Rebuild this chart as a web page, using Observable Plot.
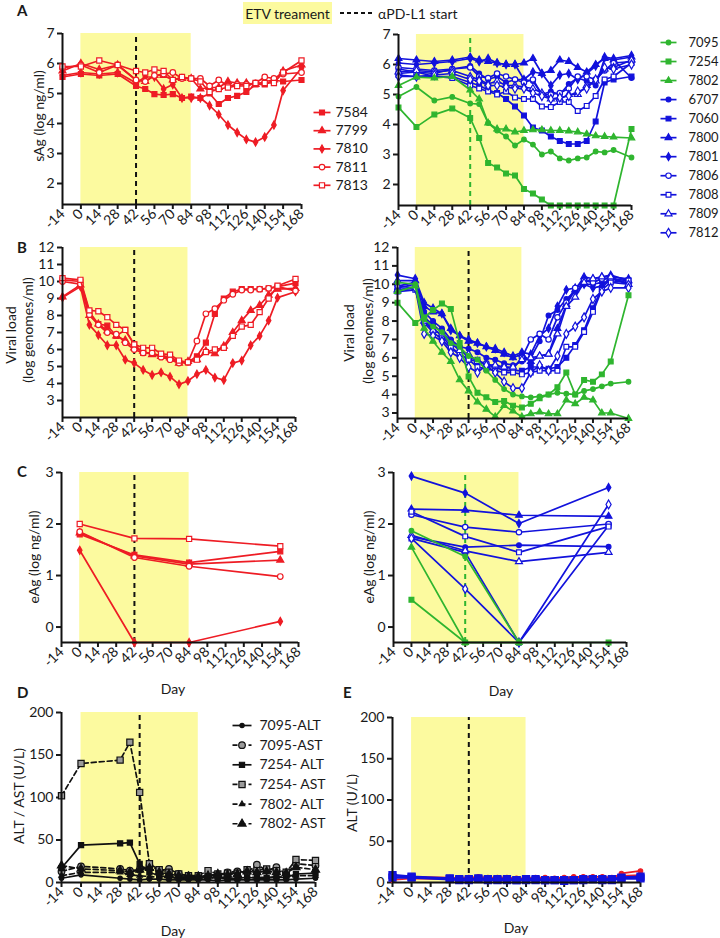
<!DOCTYPE html>
<html><head><meta charset="utf-8">
<script src="https://cdn.jsdelivr.net/npm/d3@7"></script>
<script src="https://cdn.jsdelivr.net/npm/@observablehq/plot@0.6"></script>
<style>
body{margin:0;background:#fff;}
#root{position:relative;width:720px;height:938px;overflow:hidden;font-family:Lato,sans-serif;}
#root svg [aria-label$="tick"] path,#root svg [aria-label$="tick"] line,#root svg .tick line{stroke-width:2px;}
</style></head><body><div id="root"></div>
<script>
// ---------- data ----------
const dayTicks = [-14,0,14,28,42,56,70,84,98,112,126,140,154,168];
const etvWindow = [0, 84];
const aPDL1Day = 42;
const daysA = [-14,0,14,28,42,49,56,63,70,77,84,91,98,105,112,119,126,133,140,147,154,168];
const daysB = [-14,0,7,14,21,28,35,42,49,56,63,70,77,84,91,98,105,112,119,126,133,140,147,154,168];
const daysC = [0,42,84,154];
const daysD = [-14,0,28,35,42,49,56,63,70,77,84,91,98,105,112,119,126,133,140,147,154,168];

const sAgTicks = [2,3,4,5,6,7];
const vlTicks = [3,4,5,6,7,8,9,10,11,12];
const eAgTicks = [0,1,2,3];
const altTicks = [0,50,100,150,200];

const redIds = ["7584","7799","7810","7811","7813"];
const greenIds = ["7095","7254","7802"];
const blueIds = ["6707","7060","7800","7801","7806","7808","7809","7812"];

// sAg (log ng/ml), days daysA
const sAgRed = [
  [5.55,5.65,5.6,5.65,5.25,5.15,4.98,4.95,4.98,4.85,4.9,4.85,5.0,4.65,4.85,4.92,5.05,5.3,5.3,5.45,5.4,5.45],
  [5.75,6.0,5.8,5.95,5.45,5.4,5.6,5.6,5.45,5.5,5.5,5.15,5.2,5.2,5.4,5.35,5.35,5.3,5.4,5.45,5.75,5.95],
  [5.6,5.7,5.65,5.7,5.35,5.55,5.55,5.15,5.3,4.85,4.85,4.85,4.6,4.3,3.95,3.7,3.47,3.38,3.55,3.95,5.1,5.85],
  [5.85,5.95,5.7,5.95,5.45,5.4,5.6,5.65,5.7,5.5,5.5,5.5,5.25,5.45,5.25,5.3,5.3,5.35,5.55,5.5,5.65,5.7],
  [5.9,5.9,6.1,5.95,5.75,5.7,5.8,5.75,5.45,5.55,5.5,5.4,5.05,5.15,5.2,5.25,5.25,5.35,5.35,5.35,5.7,6.1]
];
const sAgGreen = [
  [4.93,5.25,4.8,4.92,4.7,4.68,4.05,3.8,3.6,3.3,3.5,3.33,3.0,3.1,2.87,2.8,2.87,2.9,3.1,3.07,3.15,2.9],
  [4.57,3.92,4.33,4.53,4.22,3.55,2.72,2.57,2.37,2.3,1.85,1.7,1.5,1.3,1.3,1.3,1.3,1.3,1.3,1.3,1.3,3.85],
  [5.3,5.58,5.55,5.6,5.15,4.85,4.05,3.85,3.85,3.75,3.8,3.82,3.82,3.8,3.8,3.78,3.75,3.68,3.62,3.6,3.58,3.55]
];
const sAgBlue = [
  [5.85,5.75,5.7,5.85,5.95,5.7,5.5,5.6,5.4,5.5,5.5,5.45,5.0,5.1,5.0,5.35,5.55,5.45,5.3,6.2,6.15,5.55],
  [5.65,5.6,5.6,5.6,5.4,5.3,5.15,5.05,4.85,4.6,4.3,3.9,3.8,3.6,3.45,3.35,3.35,3.45,4.1,5.4,5.5,5.6],
  [6.2,6.15,6.1,6.15,6.25,6.15,6.1,6.05,6.0,6.0,6.05,6.2,5.7,5.8,6.15,6.1,5.9,5.75,6.0,6.2,6.15,6.25],
  [6.05,6.0,6.05,6.1,6.2,6.1,6.2,6.05,6.0,6.0,5.5,5.75,5.7,5.3,5.65,5.7,5.5,5.7,5.95,6.25,6.2,6.3],
  [5.9,5.85,5.8,5.85,5.9,5.6,5.55,5.7,5.6,5.5,5.4,5.5,5.0,5.0,5.05,5.2,5.6,5.6,5.5,5.8,6.05,6.1],
  [5.7,5.75,5.6,5.55,5.3,5.2,5.1,5.0,5.1,4.9,4.85,4.85,4.6,4.58,4.75,4.75,4.45,4.62,4.95,5.5,5.6,6.05],
  [5.75,5.8,5.75,5.8,5.6,5.5,5.35,5.45,5.3,5.3,5.25,5.2,5.05,4.85,4.85,5.0,5.0,5.3,5.45,5.85,5.9,6.15],
  [5.6,5.6,5.65,5.7,5.5,5.45,5.3,5.3,5.25,5.2,5.2,5.05,4.95,4.85,4.9,4.95,5.1,5.2,5.5,5.9,5.85,6.0]
];

// Viral load (log genomes/ml), days daysB
const vlRed = [
  [10.1,10.0,8.2,7.5,7.4,6.8,7.15,6.3,5.8,5.75,5.65,5.55,5.3,5.25,5.6,6.4,8.1,9.0,9.4,9.55,9.55,9.55,9.6,9.7,9.9],
  [9.1,9.8,8.0,7.5,7.1,6.8,6.55,6.1,5.9,5.7,5.6,5.5,5.2,5.3,5.4,5.9,5.75,6.2,7.0,7.7,8.3,8.6,9.2,9.55,9.6],
  [9.05,9.7,7.45,6.85,6.25,6.25,5.4,5.2,4.8,4.5,4.65,4.4,3.95,4.15,4.55,4.8,4.35,4.2,5.2,5.35,6.25,6.8,7.7,9.05,9.4],
  [10.0,9.85,8.05,7.45,7.0,6.9,6.4,6.0,5.8,5.8,5.55,5.4,5.2,5.25,6.5,8.1,8.4,8.9,9.25,9.5,9.5,9.55,9.6,9.7,9.45],
  [10.2,10.1,8.3,8.25,7.9,7.45,7.15,6.3,6.1,6.1,5.75,5.7,5.35,5.25,5.4,5.85,6.0,6.1,6.8,7.35,7.45,8.2,9.0,9.75,10.15]
];
const vlGreen = [
  [10.1,10.0,8.1,7.7,7.4,6.8,6.6,6.1,5.9,5.3,4.8,4.3,4.0,3.9,3.85,3.9,4.0,4.1,4.05,4.0,4.2,4.3,4.45,4.6,4.7],
  [9.0,7.9,8.2,8.6,8.95,8.65,6.8,4.98,4.1,3.85,3.6,3.65,3.4,3.3,3.5,3.8,4.0,4.4,5.2,4.0,4.8,4.7,5.1,5.8,9.4],
  [9.6,9.9,7.6,6.9,6.3,5.8,4.8,4.2,3.6,3.2,2.8,3.4,3.1,2.8,2.95,3.05,2.95,2.95,3.7,3.5,3.85,3.7,3.0,3.0,2.7]
];
const vlBlue = [
  [9.9,10.1,8.5,8.0,7.6,7.0,6.6,6.5,6.3,6.0,5.9,5.7,5.6,5.8,6.0,6.9,8.3,8.6,9.2,9.6,10.0,10.0,10.1,10.1,10.0],
  [9.8,10.0,8.2,7.8,7.4,6.9,6.5,6.0,5.9,5.6,5.5,5.3,5.3,5.3,5.5,5.5,5.4,5.5,6.0,6.7,7.5,8.7,9.8,10.3,10.2],
  [10.2,10.2,8.8,8.5,8.4,7.6,7.2,6.9,6.8,6.6,6.4,6.2,6.0,6.2,5.8,6.1,6.2,7.6,8.9,9.7,10.4,10.3,10.4,10.5,10.2],
  [10.5,10.3,9.0,8.7,8.4,7.5,7.2,7.0,6.8,6.6,6.5,6.3,6.1,6.3,6.2,7.2,7.6,8.8,9.7,9.8,10.0,9.8,9.9,10.4,10.3],
  [9.7,9.8,7.9,7.4,7.0,6.5,6.2,5.9,5.8,5.7,5.5,5.5,5.4,6.0,7.0,7.3,7.0,8.2,9.0,9.8,10.2,10.1,10.3,10.3,10.0],
  [9.6,9.7,8.1,7.6,7.2,6.6,6.2,5.9,5.5,5.4,5.3,5.2,5.2,5.1,5.2,5.3,5.3,5.3,6.6,6.6,7.4,8.5,9.7,10.1,10.2],
  [9.7,9.8,8.0,7.5,7.3,6.8,6.4,6.2,5.8,5.6,5.6,5.5,5.5,5.9,6.0,6.1,6.2,7.3,8.8,9.3,10.1,10.3,10.4,10.4,10.0],
  [9.9,9.8,7.3,7.2,6.9,6.3,6.0,5.5,5.2,5.6,5.2,4.7,4.35,4.35,5.2,5.6,5.3,6.1,7.3,7.7,8.2,9.2,9.6,9.8,9.8]
];

// eAg (log ng/ml), days daysC
const eAgRed = [
  [1.8,1.4,1.25,1.47],
  [1.83,1.38,1.22,1.3],
  [1.49,-0.3,-0.3,0.11],
  [1.85,1.35,1.18,0.98],
  [2.0,1.72,1.71,1.57]
];
const eAgGreen = [
  [1.87,1.37,-0.3,null],
  [0.53,-0.3,-0.3,-0.3],
  [1.55,-0.3,-0.3,null]
];
const eAgBlue = [
  [1.75,1.55,1.59,1.56],
  [1.72,1.45,-0.3,1.97],
  [2.29,2.27,2.17,2.15],
  [2.93,2.6,2.01,2.71],
  [2.18,1.94,1.84,2.0],
  [2.24,1.76,1.45,1.95],
  [1.78,1.48,1.27,1.45],
  [1.72,0.74,-0.3,2.38]
];

// ALT / AST (U/L), days daysD
const liverIds = ["7095-ALT","7095-AST","7254- ALT","7254- AST","7802- ALT","7802- AST"];
const liverValues = [
  [5,9,5,4,3,4,4,3,3,3,3,3,2,3,3,3,3,3,3,3,4,5],
  [13,19,16,14,15,20,14,16,10,8,7,8,8,12,13,12,21,14,18,10,22,20],
  [17,44,46,47,22,12,8,6,6,6,6,6,6,4,5,6,5,5,6,6,10,11],
  [102,140,144,165,106,22,15,12,10,8,8,14,10,11,11,15,14,16,14,12,27,26],
  [8,12,12,9,8,7,6,6,5,5,5,5,6,5,5,6,6,6,7,6,8,8],
  [20,16,14,12,15,17,12,10,8,7,7,8,10,9,10,13,12,13,12,11,18,15]
];
// ALT (U/L) for the other animals, days daysD
const altRed = [
  [3,5,4,4,5,6,4,5,5,4,5,5,5,4,4,6,6,5,5,5,11,14],
  [6,7,6,5,6,7,6,6,6,5,5,6,6,5,6,7,7,7,7,6,8,9]
];
const altBlue = [
  [9,7,5,4,4,5,4,4,4,3,4,4,3,3,2,3,3,4,3,3,5,5],
  [6,6,4,3,3,4,3,3,3,3,3,3,3,3,3,3,4,4,4,4,6,7]
];

// ---------- styles ----------
const F = "Lato, 'Open Sans', sans-serif";
const RED = "#ee1c24", BLUE = "#1212dc", GREEN = "#2fb52f", YEL = "#fcfa9f", INK = "#111";
const markerStyle = {
  "7584": {symbol: "square", open: false, r: 2.8},
  "7799": {symbol: "triangle", open: false, r: 2.6},
  "7810": {symbol: "diamond", open: false, r: 2.4},
  "7811": {symbol: "circle", open: true, r: 2.8},
  "7813": {symbol: "square", open: true, r: 2.9},
  "7095": {symbol: "circle", open: false, r: 2.3},
  "7254": {symbol: "square", open: false, r: 2.7},
  "7802": {symbol: "triangle", open: false, r: 2.4},
  "6707": {symbol: "circle", open: false, r: 2.4},
  "7060": {symbol: "square", open: false, r: 2.7},
  "7800": {symbol: "triangle", open: false, r: 2.5},
  "7801": {symbol: "diamond", open: false, r: 2.4},
  "7806": {symbol: "circle", open: true, r: 2.7},
  "7808": {symbol: "square", open: true, r: 2.7},
  "7809": {symbol: "triangle", open: true, r: 2.6},
  "7812": {symbol: "diamond", open: true, r: 2.7}
};
const liverStyle = [
  {symbol: "circle", fill: INK, r: 2.2, dash: null},
  {symbol: "circle", fill: "#9a9a9a", r: 3.3, dash: "5,3"},
  {symbol: "square", fill: INK, r: 2.9, dash: null},
  {symbol: "square", fill: "#9a9a9a", r: 3.5, dash: "5,3"},
  {symbol: "triangle", fill: INK, r: 2.0, dash: "5,3"},
  {symbol: "triangle", fill: INK, r: 3.0, dash: "5,3"}
];

const root = document.getElementById("root");
function place(el, L, T) {
  el.style.position = "absolute";
  el.style.left = L + "px";
  el.style.top = T + "px";
  root.appendChild(el);
}
function groupsFrom(ids, valuesList, days, color) {
  return ids.map((id, i) => {
    const st = markerStyle[id];
    return {days, values: valuesList[i], color, symbol: st.symbol, r: st.r, fill: st.open ? "white" : color, dash: null, sw: 1.7};
  });
}

function makePanel({x0, x1, y0, y1, yDomain, yTicks, dashColor, groups}) {
  const L = x0 - 60, T = y0 - 12;
  const W = x1 - L + 14, H = y1 - T + 50;
  const [lo, hi] = yDomain;
  const marks = [
    Plot.rect([etvWindow], {x1: d => d[0], x2: d => d[1], y1: () => lo, y2: () => hi, fill: YEL}),
    Plot.ruleX([aPDL1Day], {y1: () => lo, y2: () => hi, stroke: dashColor, strokeWidth: 2, strokeDasharray: "5,4"})
  ];
  for (const s of groups) {
    const data = s.values.map((v, i) => ({day: s.days[i], v})).filter(d => d.v != null);
    marks.push(Plot.line(data, {x: "day", y: "v", stroke: s.color, strokeWidth: s.sw, strokeDasharray: s.dash}));
    marks.push(Plot.dot(data, {x: "day", y: "v", symbol: s.symbol, r: s.r, fill: s.fill, stroke: s.color, strokeWidth: 1.2}));
  }
  marks.push(Plot.ruleX([dayTicks[0]], {y1: () => lo, y2: () => hi, stroke: INK, strokeWidth: 2}));
  marks.push(Plot.ruleY([lo], {stroke: INK, strokeWidth: 2}));
  const svg = Plot.plot({
    width: W, height: H,
    marginLeft: x0 - L, marginRight: L + W - x1, marginTop: y0 - T, marginBottom: T + H - y1,
    x: {domain: [dayTicks[0], dayTicks[dayTicks.length - 1]], ticks: dayTicks, tickFormat: d => String(d), tickRotate: -45, tickSize: 5, tickPadding: 2, label: null},
    y: {domain: yDomain, ticks: yTicks, tickSize: 5, tickPadding: 3, tickFormat: d => String(d), label: null},
    style: {background: "transparent", overflow: "visible", fontFamily: F, fontSize: "14px", color: "#1a1a1a"},
    marks
  });
  place(svg, L, T);
}

function makeLegend(L, T, items, gap, lineW, textDx, fontSize) {
  const rows = items.map((it, i) => ({...it, cy: 9 + i * gap}));
  const W = 100, H = 18 + (items.length - 1) * gap;
  const marks = [];
  for (const r of rows) {
    marks.push(Plot.link([r], {x1: () => 1, x2: () => 1 + lineW, y1: d => d.cy, y2: d => d.cy, stroke: r.color, strokeWidth: 1.7, strokeDasharray: r.dash}));
    marks.push(Plot.dot([r], {x: () => 1 + lineW / 2, y: d => d.cy, symbol: r.symbol, r: r.r, fill: r.fill, stroke: r.color, strokeWidth: 1.2}));
  }
  marks.push(Plot.text(rows, {x: () => 1 + lineW + textDx, y: "cy", text: "label", textAnchor: "start", fill: "#1a1a1a", fontSize}));
  const svg = Plot.plot({
    width: W, height: H, margin: 0,
    x: {type: "identity", axis: null}, y: {type: "identity", axis: null},
    style: {background: "transparent", overflow: "visible", fontFamily: F},
    marks
  });
  place(svg, L, T - 9);
}

// ---------- panels ----------
// A
makePanel({x0: 62, x1: 301, y0: 33, y1: 204, yDomain: [1.3, 7], yTicks: sAgTicks, dashColor: INK,
  groups: groupsFrom(redIds, sAgRed, daysA, RED)});
makePanel({x0: 398, x1: 631, y0: 34, y1: 205, yDomain: [1.3, 7], yTicks: sAgTicks, dashColor: GREEN,
  groups: [...groupsFrom(blueIds, sAgBlue, daysA, BLUE), ...groupsFrom(greenIds, sAgGreen, daysA, GREEN)]});
// B
makePanel({x0: 62, x1: 295, y0: 247, y1: 417, yDomain: [2, 12], yTicks: vlTicks, dashColor: INK,
  groups: groupsFrom(redIds, vlRed, daysB, RED)});
makePanel({x0: 397, x1: 628, y0: 247, y1: 418, yDomain: [2.7, 12], yTicks: vlTicks, dashColor: INK,
  groups: [...groupsFrom(blueIds, vlBlue, daysB, BLUE), ...groupsFrom(greenIds, vlGreen, daysB, GREEN)]});
// C
makePanel({x0: 61, x1: 298, y0: 472, y1: 642, yDomain: [-0.3, 3], yTicks: eAgTicks, dashColor: INK,
  groups: groupsFrom(redIds, eAgRed, daysC, RED)});
makePanel({x0: 393, x1: 626, y0: 472, y1: 642, yDomain: [-0.3, 3], yTicks: eAgTicks, dashColor: GREEN,
  groups: [...groupsFrom(blueIds, eAgBlue, daysC, BLUE), ...groupsFrom(greenIds, eAgGreen, daysC, GREEN)]});
// D
makePanel({x0: 61, x1: 315, y0: 712, y1: 882, yDomain: [0, 200], yTicks: altTicks, dashColor: INK,
  groups: liverIds.map((id, i) => ({days: daysD, values: liverValues[i], color: INK, symbol: liverStyle[i].symbol,
    r: liverStyle[i].r, fill: liverStyle[i].fill, dash: liverStyle[i].dash, sw: 1.7}))});
// E
makePanel({x0: 392, x1: 640, y0: 717, y1: 882, yDomain: [0, 200], yTicks: altTicks, dashColor: INK,
  groups: [
    ...altRed.map(v => ({days: daysD, values: v, color: RED, symbol: "circle", r: 2.2, fill: RED, dash: null, sw: 1.7})),
    ...altBlue.map(v => ({days: daysD, values: v, color: BLUE, symbol: "square", r: 4.0, fill: BLUE, dash: null, sw: 2.5}))
  ]});

// ---------- legends ----------
makeLegend(312, 112, redIds.map(id => ({label: id, color: RED, symbol: markerStyle[id].symbol, r: markerStyle[id].r,
  fill: markerStyle[id].open ? "white" : RED})), 18.2, 17, 5, 14);
makeLegend(659, 42, [...greenIds.map(id => ({id, c: GREEN})), ...blueIds.map(id => ({id, c: BLUE}))].map(({id, c}) => ({
  label: id, color: c, symbol: markerStyle[id].symbol, r: markerStyle[id].r, fill: markerStyle[id].open ? "white" : c})), 19.03, 16, 12, 13);
makeLegend(231, 725, liverIds.map((id, i) => ({label: id, color: INK, symbol: liverStyle[i].symbol, r: liverStyle[i].r,
  fill: liverStyle[i].fill, dash: liverStyle[i].dash})), 19.65, 19, 8, 14);

// ---------- header, letters, axis titles ----------
const ov = d3.create("svg").attr("width", 720).attr("height", 938)
  .style("position", "absolute").style("left", "0px").style("top", "0px").style("pointer-events", "none")
  .attr("font-family", F).attr("fill", "#1a1a1a");
ov.append("rect").attr("x", 243).attr("y", 2).attr("width", 89).attr("height", 22).attr("fill", YEL);
ov.append("text").attr("x", 287.5).attr("y", 18.5).attr("text-anchor", "middle").attr("font-size", 14).text("ETV treament");
ov.append("line").attr("x1", 340).attr("x2", 374).attr("y1", 13).attr("y2", 13).attr("stroke", INK).attr("stroke-width", 2).attr("stroke-dasharray", "4,3");
ov.append("text").attr("x", 378).attr("y", 18.5).attr("font-size", 14).text("\u03B1PD-L1 start");
const letters = [["A", 17, 16], ["B", 17, 253], ["C", 17, 477], ["D", 17, 698], ["E", 343, 698]];
for (const [t, x, y] of letters) ov.append("text").attr("x", x).attr("y", y).attr("font-size", 15).attr("font-weight", "bold").text(t);
const vTitles = [
  ["sAg (log ng/ml)", 38, 116], ["Viral load", 10, 335], ["(log genomes/ml)", 27, 330],
  ["Viral load", 348, 333], ["(log genomes/ml)", 367, 331],
  ["eAg (log ng/ml)", 33, 557], ["eAg (log ng/ml)", 368, 557],
  ["ALT / AST (U/L)", 18, 796], ["ALT (U/L)", 351, 803]
];
for (const [t, x, y] of vTitles) ov.append("text").attr("transform", `translate(${x},${y}) rotate(-90)`)
  .attr("text-anchor", "middle").attr("dominant-baseline", "central").attr("font-size", 14).text(t);
const hTitles = [["Day", 173, 688], ["Day", 501, 690], ["Day", 173, 930], ["Day", 516, 927]];
for (const [t, x, y] of hTitles) ov.append("text").attr("x", x).attr("y", y).attr("text-anchor", "middle")
  .attr("dominant-baseline", "central").attr("font-size", 14).text(t);
root.appendChild(ov.node());
</script></body></html>
